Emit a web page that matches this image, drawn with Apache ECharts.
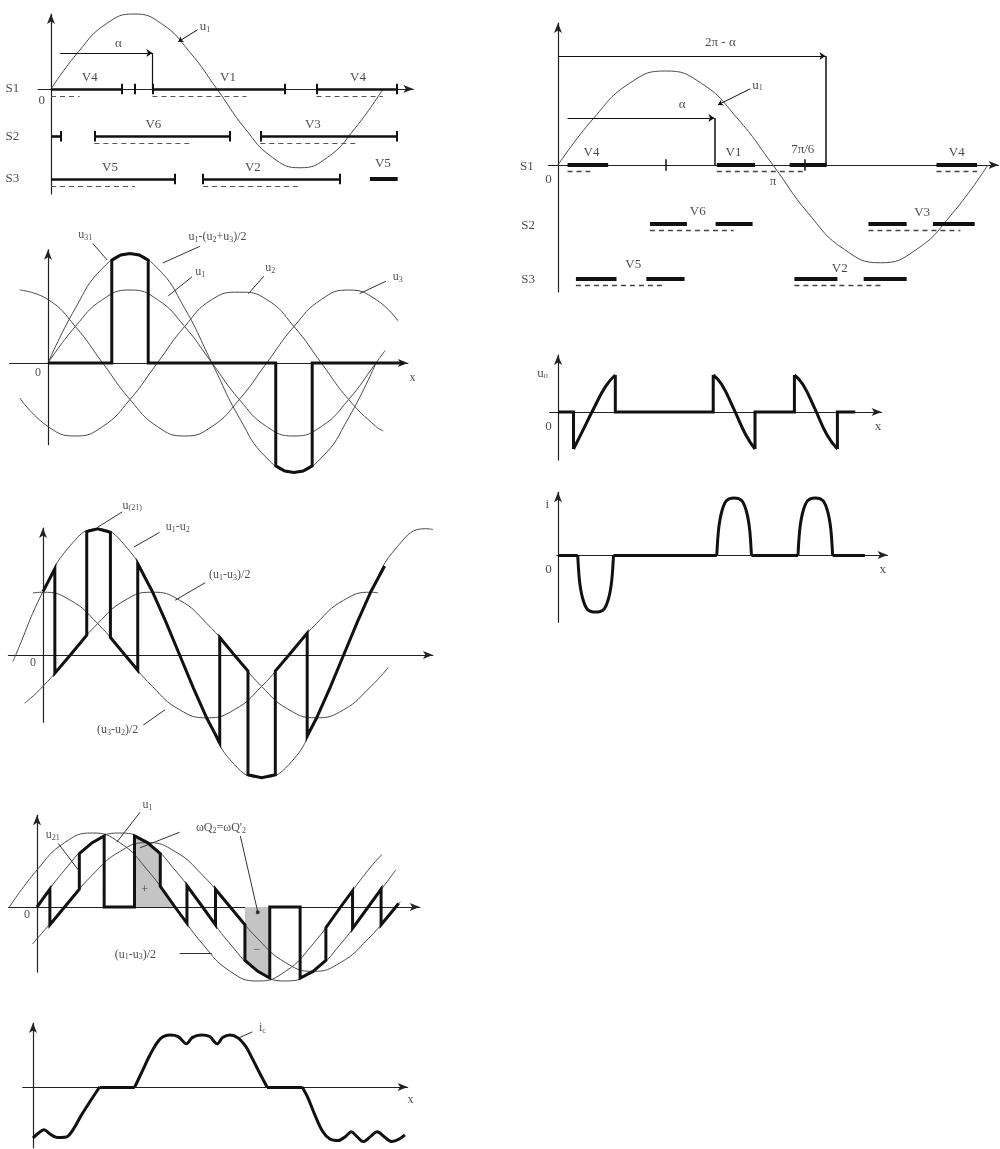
<!DOCTYPE html>
<html><head><meta charset="utf-8">
<script src="https://cdn.jsdelivr.net/npm/echarts@6/dist/echarts.min.js"></script>
<style>html,body{margin:0;padding:0;background:#fff}#c{width:1000px;height:1149px}</style>
</head><body><div id="c"></div>
<script>
// ================= DATA (θ in degrees, values in units of phase amplitude) =================
// Panel 1 – u1 and switch states S1..S3
const p1_u1 = [[0,0],[30,0.5],[60,0.87],[90,1],[120,0.87],[150,0.5],[180,0],[210,-0.52],[240,-0.91],[270,-1.05],[300,-0.91],[330,-0.52],[360,0]];
const p1_rows = [0,-0.63,-1.2];
const p1_dashRows = [-0.09,-0.72,-1.29];
const p1_on = [[0,0,77],[0,110,254],[0,288,375],[1,0,11],[1,47,194],[1,227,375],[2,0,134],[2,165,313]];
const p1_onShort = [[2,346,376]];
const p1_dash = [[0,0,31],[0,110,212],[0,288,360],[1,47,154],[1,227,333],[2,0,91],[2,165,270]];
const p1_ticks = [[0,77],[0,91],[0,110],[0,254],[0,288],[0,375],[1,11],[1,47],[1,194],[1,227],[1,375],[2,134],[2,165],[2,313]];
const p1_alpha = [[10,0.48],[110,0.48]];
const p1_alphaDrop = [[110,0.48],[110,0]];
const p1_leader = [[159,0.79],[138,0.63]];
const p1_labels = [[-42,0,'S1'],[-42,-0.63,'S2'],[-42,-1.2,'S3'],[-10,-0.16,'0'],
  [42,0.15,'V4'],[192,0.15,'V1'],[333,0.15,'V4'],[111,-0.48,'V6'],[284,-0.48,'V3'],
  [64,-1.05,'V5'],[219,-1.05,'V2'],[360,-1.0,'V5'],[73,0.61,'α'],[167,0.83,'u{s|1}']];

// Panel 2 – three phase voltages and 1.5·u1 with output
const p2_u1 = [[0,0],[30,0.5],[60,0.87],[90,1],[120,0.87],[150,0.5],[180,0],[210,-0.5],[240,-0.87],[270,-1],[300,-0.87],[330,-0.5],[360,0],[370,0.17]];
const p2_u2 = [[-31,-0.48],[0,-0.87],[30,-1],[60,-0.87],[90,-0.5],[120,0],[150,0.5],[180,0.87],[210,0.97],[240,0.87],[270,0.5],[300,0],[330,-0.5],[360,-0.87],[368,-0.93]];
const p2_u3 = [[-31,1],[0,0.87],[30,0.5],[60,0],[90,-0.5],[120,-0.87],[150,-1],[180,-0.87],[210,-0.5],[240,0],[270,0.5],[300,0.87],[330,1],[360,0.87],[384,0.58]];
const p2_A = [[0,0],[30,0.75],[60,1.3],[90,1.5],[120,1.3],[150,0.75],[180,0],[210,-0.75],[240,-1.3],[270,-1.5],[300,-1.3],[330,-0.75],[360,0]];
const p2_out = [[0,0],[70,0],[70,1.41],[80,1.48],[90,1.5],[100,1.48],[110,1.41],[110,0],[250,0],[250,-1.41],[260,-1.48],[270,-1.5],[280,-1.48],[290,-1.41],[290,0],[390,0]];
const p2_leaders = [[[49,1.64],[65,1.41]],[[167,1.6],[126,1.37]],[[158,1.18],[132,0.92]],[[237,1.19],[220,0.95]],[[371,1.12],[342,0.95]]];
const p2_labels = [[41,1.75,'u{s|31}'],[186,1.73,'u{s|1}-(u{s|2}+u{s|3})/2'],[167,1.25,'u{s|1}'],[244,1.3,'u{s|2}'],[384,1.18,'u{s|3}'],[-11,-0.14,'0'],[400,-0.21,'x']];

// Panel 3 – line voltage u1-u2 and half line voltages
const p3_B = [[-33,-0.09],[-30,0],[0,0.87],[30,1.5],[60,1.73],[90,1.5],[120,0.87],[150,0],[180,-0.87],[210,-1.5],[240,-1.68],[270,-1.5],[300,-0.87],[330,0],[360,0.87],[390,1.5],[420,1.73],[428,1.72]];
const p3_Ca = [[-20,-0.66],[0,-0.43],[30,0],[60,0.43],[90,0.75],[120,0.86],[150,0.75],[180,0.43],[210,0],[240,-0.43],[270,-0.75],[300,-0.86],[330,-0.75],[360,-0.43],[379,-0.17]];
const p3_Cb = [[-11,0.85],[0,0.86],[30,0.75],[60,0.43],[90,0],[120,-0.43],[150,-0.75],[180,-0.86],[210,-0.75],[240,-0.43],[270,0],[300,0.43],[330,0.75],[360,0.86],[368,0.85]];
const p3_out = [[0,0.87],[13,1.18],[13,-0.25],[30,0],[48,0.27],[48,1.69],[60,1.73],[74,1.68],[74,0.24],[90,0],[104,-0.21],[104,1.25],[120,0.87],[135,0.45],[150,0],[165,-0.45],[180,-0.87],[194,-1.2],[194,0.24],[210,0],[225,-0.22],[225,-1.64],[240,-1.68],[255,-1.64],[255,-0.22],[270,0],[290,0.3],[290,-1.11],[300,-0.87],[315,-0.45],[330,0],[345,0.45],[360,0.87],[375,1.22]];
const p3_leaders = [[[87,1.96],[60,1.75]],[[128,1.68],[100,1.48]],[[178,0.99],[145,0.75]],[[110,-0.96],[134,-0.75]]];
const p3_labels = [[98,2.05,'u{s|(21)}'],[148,1.75,'u{s|1}-u{s|2}'],[205,1.1,'(u{s|1}-u{s|3})/2'],[82,-1.03,'(u{s|3}-u{s|2})/2'],[-11,-0.11,'0']];

// Panel 4 – output between u1 and neighbouring curves, charge areas
const p4_u1 = [[0,0],[30,0.5],[60,0.87],[90,1],[120,0.87],[150,0.5],[180,0],[210,-0.5],[240,-0.87],[270,-1],[300,-0.87],[330,-0.5],[360,0],[390,0.5]];
const p4_P = [[-30,0],[0,0.5],[30,0.87],[60,1],[90,0.87],[120,0.5],[150,0],[180,-0.5],[210,-0.87],[240,-1],[270,-0.87],[300,-0.5],[330,0],[360,0.5],[375,0.71]];
const p4_Q = [[-5,-0.5],[0,-0.43],[30,0],[60,0.43],[90,0.75],[120,0.87],[150,0.75],[180,0.43],[210,0],[240,-0.43],[270,-0.75],[300,-0.87],[330,-0.75],[360,-0.43],[390,0],[395,0.07]];
const p4_out = [[0,0],[14,0.24],[14,-0.24],[30,0],[46,0.24],[46,0.72],[60,0.87],[73,0.96],[73,0],[106,0],[106,0.96],[120,0.87],[134,0.72],[134,0.28],[150,0],[163,-0.22],[163,0.29],[180,0],[194,-0.24],[194,0.24],[210,0],[226,-0.24],[226,-0.72],[240,-0.87],[253,-0.96],[253,0],[286,0],[286,-0.96],[300,-0.87],[314,-0.72],[314,-0.28],[330,0],[343,0.22],[343,-0.29],[360,0],[374,0.24],[374,-0.24],[390,0],[393,0.05]];
const p4_plus = [[106,0],[106,0.96],[120,0.87],[134,0.72],[134,0.28],[150,0]];
const p4_minus = [[226,0],[226,-0.72],[240,-0.87],[253,-0.96],[253,0]];
const p4_leaders = [[[112,1.28],[87,0.88]],[[23,0.86],[45,0.5]],[[155,1.01],[112,0.8]],[[155,-0.62],[190,-0.62]]];
const p4_dotLeader = [[[221,0.96],[240,-0.07]]];
const p4_labels = [[120,1.38,'u{s|1}'],[17,0.97,'u{s|21}'],[200,1.07,"ωQ{s|2}=ωQ'{s|2}"],[117,0.23,'+'],[239,-0.58,'−'],[107,-0.64,'(u{s|1}-u{s|3})/2'],[-11,-0.11,'0']];

// Panel 5 – current i_c
const p5_neg1 = [[0,-0.98],[5,-0.9],[12,-0.82],[18,-0.9],[26,-0.97],[36,-0.96],[44,-0.8],[52,-0.55],[62,-0.27],[72,0]];
const p5_pos = [[110,0],[118,0.3],[126,0.6],[134,0.85],[140,0.96],[148,1.0],[157,0.97],[166,0.83],[172,0.95],[182,1.0],[191,0.97],[199,0.83],[205,0.95],[213,1.0],[222,0.94],[230,0.78],[237,0.55],[245,0.27],[253,0]];
const p5_neg2 = [[291,0],[297,-0.2],[305,-0.55],[313,-0.85],[321,-1.0],[330,-1.03],[338,-0.95],[344,-0.86],[350,-0.95],[357,-1.05],[365,-0.95],[372,-0.86],[380,-0.96],[388,-1.05],[396,-1.0],[402,-0.92]];
const p5_zero = [[72,110],[253,291]];
const p5_leaders = [[[237,1.06],[222,0.94]]];
const p5_labels = [[248,1.13,'i{s|c}'],[408,-0.25,'x']];

// Panel 6 – right: u1 with switch states
const p6_u1 = [[0,0],[30,0.5],[60,0.87],[90,1],[120,0.87],[150,0.5],[180,0],[210,-0.52],[240,-0.9],[270,-1.04],[300,-0.9],[330,-0.52],[360,0]];
const p6_rows = [0,-0.62,-1.21];
const p6_dashRows = [-0.07,-0.69,-1.28];
const p6_on = [[0,8,42],[0,133,165],[0,194,225],[0,317,351],[1,77,108],[1,132,163],[1,260,292],[1,314,349],[2,15,49],[2,74,106],[2,198,234],[2,256,292]];
const p6_dash = [[0,8,27],[0,133,207],[0,317,351],[1,77,147],[1,260,337],[2,15,90],[2,198,271]];
const p6_ticks = [[0,90],[0,207]];
const p6_alpha = [[8,0.5],[131,0.5]];
const p6_alphaDrop = [[131,0.5],[131,0]];
const p6_twoPi = [[0,1.16],[224,1.16]];
const p6_twoPiDrop = [[224,1.16],[224,0]];
const p6_leader = [[161,0.81],[134,0.64]];
const p6_labels = [[136,1.3,'2π - α'],[104,0.64,'α'],[167,0.85,'u{s|1}'],[-26,-0.02,'S1'],[-25,-0.64,'S2'],[-25,-1.22,'S3'],[-8,-0.16,'0'],[180,-0.18,'π'],
  [28,0.13,'V4'],[147,0.13,'V1'],[205,0.16,'7π/6'],[334,0.13,'V4'],[117,-0.5,'V6'],[305,-0.51,'V3'],[63,-1.06,'V5'],[236,-1.1,'V2']];

// Panel 7 – output voltage u_o
const p7_seg1 = [[13,-1],[20,-0.55],[30,0.1],[40,0.7],[48,1]];
const p7_seg2 = [[130,1],[137,0.75],[147,0.1],[157,-0.6],[165,-1]];
const p7_seg3 = [[198,1],[205,0.75],[215,0.1],[225,-0.6],[234,-1]];
const p7_steps = [[[0,0],[13,0],[13,-1]],[[48,1],[48,0],[130,0],[130,1]],[[165,-1],[165,0],[198,0],[198,1]],[[234,-1],[234,0],[249,0]]];
const p7_labels = [[-13,1.05,'u{s|o}'],[-8,-0.4,'0'],[268,-0.4,'x']];

// Panel 8 – current i
const p8_h1 = [[16.5,0],[18,-0.45],[20.5,-0.75],[24.5,-0.95],[31.5,-1],[38.5,-0.95],[42.5,-0.75],[45,-0.45],[46.5,0]];
const p8_h2 = [[133,0],[134.5,0.45],[137,0.75],[141,0.95],[147.5,1],[154,0.95],[158,0.75],[160.5,0.45],[162,0]];
const p8_h3 = [[201,0],[202.5,0.45],[205,0.75],[209,0.95],[215.5,1],[222,0.95],[226,0.75],[228.5,0.45],[230,0]];
const p8_zero = [[0,16.5],[46.5,133],[162,201],[230,257]];
const p8_labels = [[-9,0.88,'i'],[-8,-0.26,'0'],[272,-0.26,'x']];

// ================= LAYOUT (pixel origin of each panel, pixels per degree / per unit, axis ranges) =================
const LAY = [
  {ox:51, oy:89, sx:0.922, sy:75, xr:[-14,393], yr:[-1.4,1.0]},
  {ox:48, oy:363, sx:0.911, sy:73, xr:[-42,395], yr:[-1.12,1.55]},
  {ox:43, oy:655, sx:0.911, sy:73, xr:[-38,428], yr:[-0.92,1.74]},
  {ox:37, oy:907, sx:0.92, sy:74, xr:[-31,416], yr:[-0.88,1.24]},
  {ox:33, oy:1087, sx:0.925, sy:52, xr:[-11,405], yr:[-1.17,1.23]},
  {ox:558, oy:165, sx:1.194, sy:94, xr:[-8,369], yr:[-1.35,1.51]},
  {ox:558, oy:412, sx:1.194, sy:37, xr:[-7,271], yr:[-1.3,1.54]},
  {ox:558, oy:555, sx:1.194, sy:57, xr:[-1,276], yr:[-1.18,1.1]}
];
const FONT = 'Liberation Serif';
const THIN = '#4a4a4a', INK = '#111';
const RICH = { s:{fontSize:8, fontFamily:FONT, color:'#1a1a1a', verticalAlign:'bottom', lineHeight:14} };

const opt = {animation:false, backgroundColor:'#fff', grid:[], xAxis:[], yAxis:[], series:[]};
LAY.forEach((L,i)=>{
  opt.grid.push({left:L.ox+L.xr[0]*L.sx, top:L.oy-L.yr[1]*L.sy, width:(L.xr[1]-L.xr[0])*L.sx, height:(L.yr[1]-L.yr[0])*L.sy});
  const base = {gridIndex:i, type:'value',
    axisLine:{onZero:true, symbol:['none','arrow'], symbolSize:[6,10], lineStyle:{color:'#222', width:1.2}},
    axisTick:{show:false}, axisLabel:{show:false}, splitLine:{show:false}};
  opt.xAxis.push(Object.assign({}, base, {min:L.xr[0], max:L.xr[1]}));
  opt.yAxis.push(Object.assign({}, base, {min:L.yr[0], max:L.yr[1]}));
});
const S = opt.series;
function curve(p, data, w, color, smooth, z){
  S.push({type:'line', xAxisIndex:p, yAxisIndex:p, data:data, symbol:'none', showSymbol:false,
    smooth: smooth, lineStyle:{width:w, color:color, join:'miter'}, clip:false, silent:true, z:z||2});
}
function area(p, data){
  S.push({type:'line', xAxisIndex:p, yAxisIndex:p, data:data, symbol:'none', showSymbol:false,
    lineStyle:{width:0}, areaStyle:{color:'#c4c4c4', opacity:1}, clip:false, silent:true, z:1});
}
function segs(p, list, o){
  o = o || {};
  S.push({type:'lines', coordinateSystem:'cartesian2d', xAxisIndex:p, yAxisIndex:p, polyline:!!o.poly,
    data:list.map(c=>({coords:c})),
    lineStyle:{width:o.w||1, color:o.c||INK, type:o.type||'solid', opacity:1},
    symbol:o.sym||['none','none'], symbolSize:o.ss||7, clip:false, silent:true, z:o.z||3});
}
function texts(p, list, fs){
  S.push({type:'scatter', xAxisIndex:p, yAxisIndex:p, symbolSize:1, itemStyle:{color:'rgba(0,0,0,0)'},
    clip:false, silent:true, z:6,
    data:list.map(d=>({value:[d[0],d[1]], label:{formatter:d[2]}})),
    label:{show:true, position:'inside', fontFamily:FONT, fontSize:fs||12, color:'#1a1a1a', lineHeight:14, rich:RICH}});
}
const rowSeg = (rows)=>([r,a,b])=>[[a,rows[r]],[b,rows[r]]];
const tickSeg = (rows,h)=>([r,t])=>[[t,rows[r]+h],[t,rows[r]-h]];

// ---- Panel 1
curve(0, p1_u1, 1, THIN, true);
segs(0, p1_on.map(rowSeg(p1_rows)), {w:2.6});
segs(0, p1_onShort.map(rowSeg(p1_rows)), {w:4});
segs(0, p1_dash.map(rowSeg(p1_dashRows)), {w:1.2, c:'#555', type:[5,4]});
segs(0, p1_ticks.map(tickSeg(p1_rows,0.07)), {w:2});
segs(0, [p1_alpha], {w:1, sym:['none','arrow'], ss:6});
segs(0, [p1_alphaDrop], {w:1.2});
segs(0, [p1_leader], {w:1, sym:['none','arrow'], ss:5});
texts(0, p1_labels, 13);

// ---- Panel 2
[p2_u1,p2_u2,p2_u3,p2_A].forEach(d=>curve(1, d, 1, THIN, true));
curve(1, p2_out, 3, INK, false, 3);
segs(1, p2_leaders, {w:1, c:'#333'});
texts(1, p2_labels);

// ---- Panel 3
[p3_B,p3_Ca,p3_Cb].forEach(d=>curve(2, d, 1, THIN, true));
curve(2, p3_out, 3, INK, false, 3);
segs(2, p3_leaders, {w:1, c:'#333'});
texts(2, p3_labels);

// ---- Panel 4
area(3, p4_plus); area(3, p4_minus);
[p4_u1,p4_P,p4_Q].forEach(d=>curve(3, d, 1, THIN, true));
curve(3, p4_out, 3, INK, false, 3);
segs(3, p4_leaders, {w:1, c:'#333'});
segs(3, p4_dotLeader, {w:1, c:'#333', sym:['none','circle'], ss:4});
texts(3, p4_labels);

// ---- Panel 5
[p5_neg1,p5_pos,p5_neg2].forEach(d=>curve(4, d, 3, INK, 0.35, 3));
segs(4, p5_zero.map(([a,b])=>[[a,0],[b,0]]), {w:3});
segs(4, p5_leaders, {w:1, c:'#333'});
texts(4, p5_labels);

// ---- Panel 6
curve(5, p6_u1, 1, THIN, true);
segs(5, p6_on.map(rowSeg(p6_rows)), {w:4});
segs(5, p6_dash.map(rowSeg(p6_dashRows)), {w:1.3, c:'#444', type:[5,4]});
segs(5, p6_ticks.map(tickSeg(p6_rows,0.06)), {w:1.5});
segs(5, [p6_alpha, p6_twoPi], {w:1.2, sym:['none','arrow'], ss:6});
segs(5, [p6_alphaDrop, p6_twoPiDrop], {w:1.5});
segs(5, [p6_leader], {w:1, sym:['none','arrow'], ss:5});
texts(5, p6_labels, 13);

// ---- Panel 7
[p7_seg1,p7_seg2,p7_seg3].forEach(d=>curve(6, d, 3, INK, true, 3));
segs(6, p7_steps, {w:3, poly:true});
texts(6, p7_labels, 13);

// ---- Panel 8
[p8_h1,p8_h2,p8_h3].forEach(d=>curve(7, d, 3, INK, 0.3, 3));
segs(7, p8_zero.map(([a,b])=>[[a,0],[b,0]]), {w:3});
texts(7, p8_labels, 13);

const chart = echarts.init(document.getElementById('c'), null, {renderer:'canvas'});
chart.setOption(opt);
</script>
</body></html>
